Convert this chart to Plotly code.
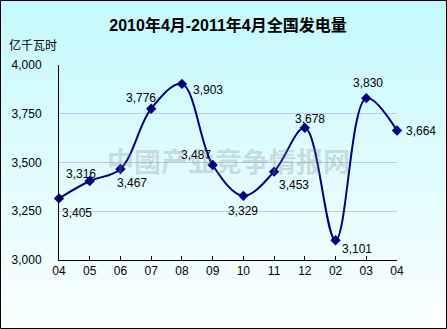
import plotly.graph_objects as go

# Monthly national power generation, April 2010 - April 2011 (100 million kWh)
months = ["04", "05", "06", "07", "08", "09", "10", "11", "12", "02", "03", "04"]
generation = [3316, 3405, 3467, 3776, 3903, 3487, 3329, 3453, 3678, 3101, 3830, 3664]

# pixel offsets of each value label from its marker (dx right, dy down)
label_dx = [22, -13, 12, -10, 26, -17, 0, 20, 5, 21, 2, 24]
label_dy = [-24, 32, 14, -11, 6, -10, 15, 13, -9, 9, -15, 0]

W, H = 447, 329
L, R, T, B = 59, 50, 65, 69
plot_w, plot_h = W - L - R, H - T - B

def py(pix):
    """figure pixel row -> paper y"""
    return (H - B - pix) / plot_h

def px(pix):
    """figure pixel column -> paper x"""
    return (pix - L) / plot_w

xs = list(range(len(months)))

fig = go.Figure()
fig.add_trace(go.Scatter(
    x=xs, y=generation,
    mode="lines+markers",
    line=dict(color="#000080", width=2, shape="spline", smoothing=1.0),
    marker=dict(symbol="diamond", size=8, color="#000080"),
    cliponaxis=False,
    hoverinfo="skip",
))

# vertical light-cyan background gradient
shapes = []
bands = 60
top_c = (196, 249, 251)
bot_c = (250, 255, 255)
for i in range(bands):
    t = i / (bands - 1)
    c = tuple(round(top_c[k] + (bot_c[k] - top_c[k]) * t) for k in range(3))
    y0 = H * i / bands
    y1 = H * (i + 1) / bands + 0.5
    shapes.append(dict(
        type="rect", xref="paper", yref="paper", layer="below",
        x0=px(0), x1=px(W), y0=py(y1), y1=py(y0),
        fillcolor="rgb(%d,%d,%d)" % c, line=dict(width=0),
    ))
# outer frame
shapes.append(dict(
    type="rect", xref="paper", yref="paper", layer="above",
    x0=px(0.5), x1=px(W - 0.5), y0=py(H - 0.5), y1=py(0.5),
    line=dict(color="black", width=1), fillcolor="rgba(0,0,0,0)",
))

annotations = []
for x, v, dx, dy in zip(xs, generation, label_dx, label_dy):
    annotations.append(dict(
        x=x, y=v, xref="x", yref="y", text=f"{v:,}", showarrow=False,
        xshift=dx, yshift=-dy, xanchor="center", yanchor="middle",
        font=dict(family="Liberation Sans, Arial", size=12, color="black"),
    ))

# unit label
annotations.append(dict(
    x=px(7), y=py(45), xref="paper", yref="paper", text="亿千瓦时",
    showarrow=False, xanchor="left", yanchor="middle",
    font=dict(family="Noto Sans CJK SC", size=12, color="black"),
))
# watermark
annotations.append(dict(
    x=px(228), y=py(160), xref="paper", yref="paper",
    text="<b>中國产业竞争情报网</b>", showarrow=False,
    xanchor="center", yanchor="middle",
    font=dict(family="Noto Sans CJK SC", size=27, color="rgba(140,140,140,0.28)"),
))

fig.update_layout(
    width=W, height=H,
    margin=dict(l=L, r=R, t=T, b=B),
    paper_bgcolor="white",
    plot_bgcolor="rgba(0,0,0,0)",
    showlegend=False,
    title=dict(
        text="<b>2010年4月-2011年4月全国发电量</b>",
        x=0.5, xref="paper", xanchor="center",
        y=1 - 25 / H, yref="container", yanchor="middle",
        font=dict(family="Liberation Sans, Noto Sans CJK SC", size=16, color="black"),
    ),
    shapes=shapes,
    annotations=annotations,
    xaxis=dict(
        range=[0, len(months) - 1], tickvals=xs, ticktext=months,
        showgrid=False, zeroline=False,
        showline=True, linecolor="black", linewidth=1,
        ticks="inside", ticklen=4, tickcolor="black",
        tickfont=dict(family="Liberation Sans, Arial", size=12, color="black"),
        fixedrange=True,
    ),
    yaxis=dict(
        range=[3000, 4000], dtick=250, tickformat=",d",
        showgrid=True, gridcolor="#C4C4EC", gridwidth=1,
        zeroline=False,
        showline=True, linecolor="black", linewidth=1,
        ticks="", ticklabelstandoff=14,
        tickfont=dict(family="Liberation Sans, Arial", size=12, color="black"),
        fixedrange=True,
    ),
)

fig.write_html("out.html")
